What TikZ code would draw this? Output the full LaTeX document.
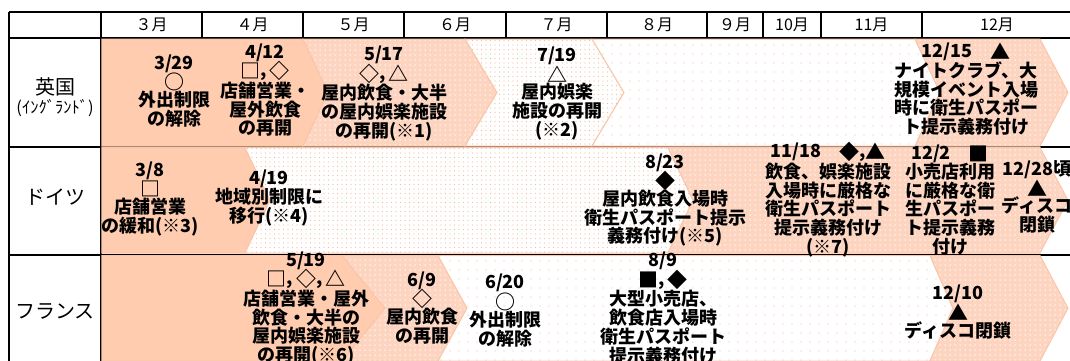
\documentclass[tikz,border=0pt]{standalone}
\usepackage{fontspec}
\newfontfamily\jp{Noto Sans CJK JP}
\usetikzlibrary{patterns.meta}
\definecolor{peach}{RGB}{255,204,176}
\definecolor{peachline}{RGB}{250,198,170}
\definecolor{densebg}{RGB}{252,212,192}
\definecolor{dotc}{RGB}{247,186,155}
\newcommand\chevband[7]{%
  \path[#1] (#2,#6) -- (#4,#6) -- ({#4+#5},{(#6+#7)/2}) -- (#4,#7) -- (#2,#7) -- ({#2+#3},{(#6+#7)/2}) -- cycle;}
\newcommand\sy[1]{\smash{\raisebox{-1.8pt}{\fontsize{20}{18.7}\selectfont #1}}}
\tikzset{
  solidband/.style={fill=peach, draw=peachline, line width=1pt},
  denseband/.style={draw=peachline, line width=1pt, preaction={fill=densebg}, pattern={Dots[distance=5pt,radius=0.75pt]}, pattern color=white},
  medband/.style={draw=peachline, line width=1pt, preaction={fill=white}, pattern={Dots[distance=4.5pt,radius=0.6pt]}, pattern color=dotc},
  sparseband/.style={draw=peachline, line width=1pt, preaction={fill=white}, pattern={Dots[distance=9pt,radius=0.7pt]}, pattern color=dotc},
  grid/.style={line width=1.5pt, black},
  txt/.style={font=\jp\bfseries\fontsize{18}{18.7}\selectfont, align=center, inner sep=0pt},
  head/.style={font=\jp\fontsize{16}{18}\selectfont, inner sep=0pt},
  rowlbl/.style={font=\jp\fontsize{20}{24}\selectfont, inner sep=0pt},
}
\begin{document}
\begin{tikzpicture}[x=1pt,y=-1pt]
\useasboundingbox (0,0) rectangle (1070,360);
\fill[white] (0,0) rectangle (1070,360);
% grid lines
\draw[grid] (9,12) -- (1072,12);
\draw[grid] (9,38) -- (1072,38);
\draw[grid] (9,147) -- (1072,147);
\draw[grid] (9,255) -- (1072,255);
\draw[grid] (9,12) -- (9,362);
\draw[grid] (101,12) -- (101,362);
\foreach \xx in {202,303,404,506,607,707,763,821,922} \draw[grid] (\xx,12) -- (\xx,38);
% header
\node[head] (m3) at (151.5,25) {３月};
\node[head] (m4) at (252.5,25) {４月};
\node[head] (m5) at (353.5,25) {５月};
\node[head] (m6) at (455,25) {６月};
\node[head] (m7) at (556.5,25) {７月};
\node[head] (m8) at (657,25) {８月};
\node[head] (m9) at (735,25) {９月};
\node[head] (m10) at (792,25) {10月};
\node[head] (m11) at (871.5,25) {11月};
\node[head] (m12) at (997,25) {12月};
% row labels
\node[rowlbl] (uk) at (55,87) {英国};
\node[font=\jp\fontsize{16.5}{18}\selectfont, inner sep=0pt] (ukeng) at (55,108) {(ｲﾝｸﾞﾗﾝﾄﾞ)};
\node[rowlbl] (de) at (55,197) {ドイツ};
\node[rowlbl] (fr) at (55,311) {フランス};
% England bands
\chevband{solidband}{101.8}{0}{303}{25}{39}{146}
\chevband{denseband}{303}{25}{465}{32}{39}{146}
\chevband{medband}{465}{32}{592}{32}{39}{146}
\chevband{sparseband}{592}{32}{915}{25}{39}{146}
\chevband{denseband}{915}{25}{1040}{28}{39}{146}
% Germany bands
\chevband{solidband}{101.8}{0}{245}{25}{147.5}{253}
\chevband{medband}{245}{25}{668}{25}{147.5}{253}
\chevband{denseband}{668}{25}{1040}{28}{147.5}{253}
% France bands
\chevband{solidband}{101.8}{0}{342}{43}{255.5}{361}
\chevband{denseband}{342}{43}{438}{29}{255.5}{361}
\chevband{sparseband}{438}{29}{930}{23}{255.5}{361}
\chevband{denseband}{930}{23}{1040}{28}{255.5}{361}
% England texts
\node[txt] (e1) at (174,91) {3/29\\\sy{○}\\外出制限\\の解除};
\node[txt] (e2) at (265,90) {4/12\\\sy{□},\,\sy{◇}\\店舗営業・\\屋外飲食\\の再開};
\node[txt] (e3) at (384,93.5) {5/17\\\sy{◇},\,\sy{△}\\屋内飲食・大半\\の屋内娯楽施設\\の再開(※1)};
\node[txt] (e4) at (557,93.5) {7/19\\\sy{△}\\屋内娯楽\\施設の再開\\(※2)};
\node[txt] (e5) at (966,89) {12/15　\sy{▲}\\ナイトクラブ、大\\規模イベント入場\\時に衛生パスポー\\ト提示義務付け};
% Germany texts
\node[txt] (g1) at (150,199) {3/8\\\sy{□}\\店舗営業\\の緩和(※3)};
\node[txt] (g2) at (269,198) {4/19\\地域別制限に\\移行(※4)};
\node[txt] (g3) at (665,200) {8/23\\\sy{◆}\\屋内飲食入場時\\衛生パスポート提示\\義務付け(※5)};
\node[txt] (g4) at (828,200) {11/18　\sy{◆},\sy{▲}\\飲食、娯楽施設\\入場時に厳格な\\衛生パスポート\\提示義務付け\\(※7)};
\node[txt] (g5) at (950,200) {12/2　\sy{■}\\小売店利用\\に厳格な衛\\生パスポー\\ト提示義務\\付け};
\node[txt] (g6) at (1037,197) {12/28頃\\\sy{▲}\\ディスコ\\閉鎖};
% France texts
\node[txt] (f1) at (306,308.5) {5/19\\\sy{□},\,\sy{◇},\,\sy{△}\\店舗営業・屋外\\飲食・大半の\\屋内娯楽施設\\の再開(※6)};
\node[txt] (f2) at (422,308) {6/9\\\sy{◇}\\屋内飲食\\の再開};
\node[txt] (f3) at (505,310.5) {6/20\\\sy{○}\\外出制限\\の解除};
\node[txt] (f4) at (663,308) {8/9\\\sy{■},\,\sy{◆}\\大型小売店、\\飲食店入場時\\衛生パスポート\\提示義務付け};
\node[txt] (f5) at (958,312) {12/10\\\sy{▲}\\ディスコ閉鎖};
\end{tikzpicture}
\end{document}
